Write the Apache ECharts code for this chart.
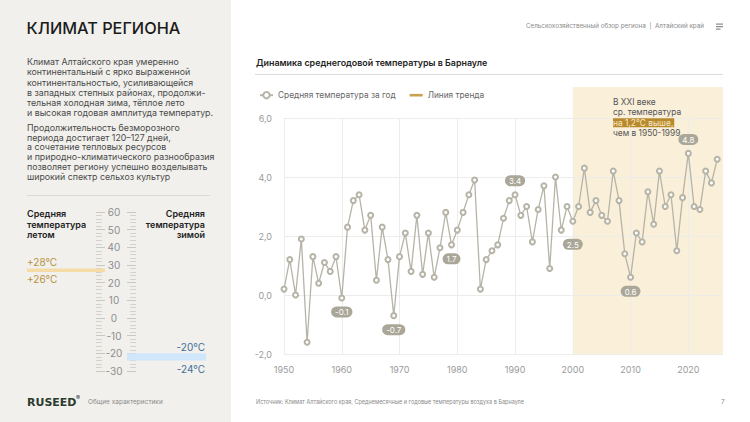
<!DOCTYPE html>
<html><head><meta charset="utf-8">
<script src="https://cdn.jsdelivr.net/npm/echarts@6/dist/echarts.min.js"></script>
<style>html,body{margin:0;padding:0;background:#fff}#c{width:750px;height:422px}</style>
</head><body><div id="c"></div><script>
// ---- data ----
const years = [1950,1951,1952,1953,1954,1955,1956,1957,1958,1959,
  1960,1961,1962,1963,1964,1965,1966,1967,1968,1969,
  1970,1971,1972,1973,1974,1975,1976,1977,1978,1979,
  1980,1981,1982,1983,1984,1985,1986,1987,1988,1989,
  1990,1991,1992,1993,1994,1995,1996,1997,1998,1999,
  2000,2001,2002,2003,2004,2005,2006,2007,2008,2009,
  2010,2011,2012,2013,2014,2015,2016,2017,2018,2019,
  2020,2021,2022,2023,2024,2025];
const temps = [0.2,1.2,0.0,1.9,-1.6,1.3,0.4,1.1,0.8,1.3,
  -0.1,2.3,3.2,3.4,2.2,2.7,0.5,2.3,1.2,-0.7,
  1.3,2.1,0.8,2.7,0.7,2.1,0.6,1.6,2.8,1.7,
  2.2,2.8,3.4,3.9,0.2,1.2,1.5,1.7,2.6,3.2,
  3.4,2.7,3.0,1.8,2.9,3.7,0.9,4.0,2.2,3.0,
  2.5,3.0,4.3,2.8,3.2,2.7,2.5,4.2,3.2,1.4,
  0.6,2.1,1.8,3.5,2.4,4.2,3.0,3.4,1.5,3.3,
  4.8,3.0,2.9,4.2,3.8,4.6];
const labelYears = [1960,1969,1979,1990,2000,2010,2020];
const labelPositions = ['bottom','bottom','bottom','top','bottom','bottom','top'];
const xRange = [1950, 2026];
const yRange = [-2, 6];
const highlightFrom = 2000;
const scaleRange = [-30, 60];
const summerRange = [26, 28];
const winterRange = [-24, -20];
const seriesNames = ['Средняя температура за год', 'Линия тренда'];

const FONT = 'Inter, Roboto, sans-serif';
const chart = echarts.init(document.getElementById('c'), null, {renderer: 'svg', width: 750, height: 422});

const seriesData = years.map((y, i) => {
  const k = labelYears.indexOf(y);
  const item = {value: [y, temps[i]]};
  if (k >= 0) item.label = {show: true, position: labelPositions[k], distance: y === 2000 ? 14 : 5};
  return item;
});

const hiddenX = i => ({gridIndex: i, type: 'value', min: 0, max: 1, show: false});
const hiddenY = i => ({gridIndex: i, type: 'value', min: scaleRange[0], max: scaleRange[1], show: false});
const scaleTick = {inside: true, length: 9, lineStyle: {color: '#c9c8c3', width: 1}};
const scaleMinor = {show: true, splitNumber: 5, length: 6, lineStyle: {color: '#d3d2cd', width: 1}};

const option = {
  animation: false,
  backgroundColor: '#ffffff',
  textStyle: {fontFamily: FONT},
  legend: {
    left: 254, top: 86, itemWidth: 13, itemHeight: 8, itemGap: 14,
    textStyle: {fontSize: 8.3, color: '#666', fontFamily: FONT},
    data: [{name: seriesNames[0]},
      {name: seriesNames[1], icon: 'path://M0,0 L12,0 L12,2.4 L0,2.4 Z'}]
  },
  grid: [
    {left: 284, right: 27, top: 118, bottom: 68},
    {left: 96, width: 40, top: 212, height: 159},
    {left: 27, width: 78, top: 212, height: 159},
    {left: 127, width: 79, top: 212, height: 159}
  ],
  xAxis: [
    {gridIndex: 0, type: 'value', min: xRange[0], max: xRange[1], interval: 10,
      axisLine: {show: false}, axisTick: {show: false},
      axisLabel: {color: '#9a9a9a', fontSize: 9, margin: 11, showMaxLabel: false,
        formatter: v => (v % 10 === 0 ? String(v) : '')},
      splitLine: {show: true, showMaxLine: false, lineStyle: {color: '#ececea', width: 1}}},
    hiddenX(1), hiddenX(2), hiddenX(3)
  ],
  yAxis: [
    {gridIndex: 0, type: 'value', min: yRange[0], max: yRange[1], interval: 2,
      axisLine: {show: false}, axisTick: {show: false},
      axisLabel: {color: '#9a9a9a', fontSize: 9, margin: 12,
        formatter: v => v.toFixed(1).replace('.', ',')},
      splitLine: {lineStyle: {color: '#ececea', width: 1}}},
    {gridIndex: 1, type: 'value', position: 'left', min: scaleRange[0], max: scaleRange[1], interval: 10,
      axisLine: {show: false}, axisTick: scaleTick, minorTick: scaleMinor, splitLine: {show: false},
      axisLabel: {inside: true, margin: 18, align: 'center', color: '#8e8e8e', fontSize: 10, fontFamily: FONT}},
    {gridIndex: 1, type: 'value', position: 'right', min: scaleRange[0], max: scaleRange[1], interval: 10,
      axisLine: {show: false}, axisTick: scaleTick, minorTick: scaleMinor, splitLine: {show: false},
      axisLabel: {show: false}},
    hiddenY(2), hiddenY(3)
  ],
  series: [
    {name: seriesNames[0], type: 'line', xAxisIndex: 0, yAxisIndex: 0, z: 3,
      data: seriesData,
      symbol: 'emptyCircle', symbolSize: 5,
      lineStyle: {color: '#b6b3a7', width: 1.3},
      itemStyle: {color: '#b6b3a7', borderWidth: 1},
      label: {show: false, formatter: p => p.value[1].toFixed(1), color: '#ffffff',
        backgroundColor: '#aaa799', fontSize: 8, fontFamily: FONT,
        padding: [2, 4, 1, 4], borderRadius: 6},
      emphasis: {disabled: true}},
    {name: seriesNames[1], type: 'line', xAxisIndex: 0, yAxisIndex: 0, data: [],
      symbol: 'none', color: '#c9a24d', lineStyle: {color: '#c9a24d', width: 2.5}},
    {type: 'line', xAxisIndex: 2, yAxisIndex: 3, data: [], silent: true,
      markArea: {silent: true, itemStyle: {color: '#f5dca6'},
        data: [[{yAxis: summerRange[0]}, {yAxis: summerRange[1]}]]}},
    {type: 'line', xAxisIndex: 3, yAxisIndex: 4, data: [], silent: true,
      markArea: {silent: true, itemStyle: {color: '#d0e7fb'},
        data: [[{yAxis: winterRange[0]}, {yAxis: winterRange[1]}]]}}
  ]
};
chart.setOption(option);

// highlight band for XXI century, extends above the plot
const pA = chart.convertToPixel({gridIndex: 0}, [highlightFrom, yRange[0]]);
const pB = chart.convertToPixel({gridIndex: 0}, [xRange[1], yRange[1]]);

const T = (x, y, text, o) => ({type: 'text', x, y, silent: true,
  style: Object.assign({text, fontFamily: FONT, fontSize: 8.8, fill: '#444', align: 'left', verticalAlign: 'middle'}, o || {})});

chart.setOption({graphic: [
  {type: 'rect', z: -2, silent: true, shape: {x: 0, y: 0, width: 231, height: 422}, style: {fill: '#f1f0ec'}},
  {type: 'rect', z: -1, silent: true, shape: {x: pA[0], y: 87, width: pB[0] - pA[0], height: pA[1] - 87}, style: {fill: '#faefd9'}},
  T(26.5, 28, 'КЛИМАТ РЕГИОНА', {fontSize: 16.3, fontWeight: 500, fill: '#1b1b1b'}),
  T(27, 56.7, 'Климат Алтайского края умеренно\nконтинентальный с ярко выраженной\nконтинентальностью, усиливающейся\nв западных степных районах, продолжи-\nтельная холодная зима, тёплое лето\nи высокая годовая амплитуда температур.', {verticalAlign: 'top', lineHeight: 10.2, fill: '#4a4a4a'}),
  T(27, 122.4, 'Продолжительность безморозного\nпериода достигает 120–127 дней,\nа сочетание тепловых ресурсов\nи природно-климатического разнообразия\nпозволяет региону успешно возделывать\nширокий спектр сельхоз культур', {verticalAlign: 'top', lineHeight: 9.8, fill: '#4a4a4a'}),
  {type: 'line', silent: true, shape: {x1: 27, y1: 195.5, x2: 210, y2: 195.5}, style: {stroke: '#dcdbd6', lineWidth: 1}},
  T(27, 208.5, 'Средняя\nтемпература\nлетом', {verticalAlign: 'top', lineHeight: 10.5, fontSize: 9, fontWeight: 600, fill: '#222'}),
  T(205, 208.5, 'Средняя\nтемпература\nзимой', {verticalAlign: 'top', lineHeight: 10.5, fontSize: 9, fontWeight: 600, fill: '#222', align: 'right'}),
  T(27, 262, '+28°C', {fontSize: 10, fill: '#b8923f'}),
  T(27, 278.5, '+26°C', {fontSize: 10, fill: '#b8923f'}),
  T(205, 347, '-20°C', {fontSize: 10, fill: '#3f6f98', align: 'right'}),
  T(205, 368.5, '-24°C', {fontSize: 10, fill: '#3f6f98', align: 'right'}),
  T(27, 402, 'RUSEED', {fontSize: 11, fontWeight: 'bold', fontFamily: 'DejaVu Sans', fill: '#2b3b2d'}),
  T(76, 397, '®', {fontSize: 6, fontWeight: 'bold', fill: '#2b3b2d'}),
  T(88, 402, 'Общие характеристики', {fontSize: 6.5, fill: '#8a8a8a'}),
  T(704, 26, 'Сельскохозяйственный обзор региона  |  Алтайский край', {fontSize: 6.3, fill: '#8a8a8a', align: 'right'}),
  {type: 'rect', silent: true, shape: {x: 716, y: 23.5, width: 7, height: 1.2}, style: {fill: '#8a8a8a'}},
  {type: 'rect', silent: true, shape: {x: 716, y: 26, width: 7, height: 1.2}, style: {fill: '#8a8a8a'}},
  {type: 'rect', silent: true, shape: {x: 716, y: 28.5, width: 4.5, height: 1.2}, style: {fill: '#8a8a8a'}},
  T(256, 62.5, 'Динамика среднегодовой температуры в Барнауле', {fontSize: 8.9, fontWeight: 600, fill: '#222'}),
  {type: 'line', silent: true, shape: {x1: 255, y1: 74.5, x2: 723, y2: 74.5}, style: {stroke: '#dcdbd6', lineWidth: 1}},
  T(613, 96.5, 'В XXI веке\nср. температура\n{h|на 1,2°C выше,}\nчем в 1950-1999', {verticalAlign: 'top', lineHeight: 10.5, fontSize: 8.4, fill: '#555',
    rich: {h: {backgroundColor: '#b88a2c', fill: '#f7e9c8', color: '#f7e9c8', fontSize: 8.4, fontFamily: FONT, padding: [1, 1, 0, 0], lineHeight: 10.5}}}),
  T(256, 401.5, 'Источник: Климат Алтайского края, Среднемесячные и годовые температуры воздуха в Барнауле', {fontSize: 5.5, fill: '#8a8a8a'}),
  T(721, 401.5, '7', {fontSize: 6.5, fill: '#8a8a8a'})
]});
</script></body></html>
